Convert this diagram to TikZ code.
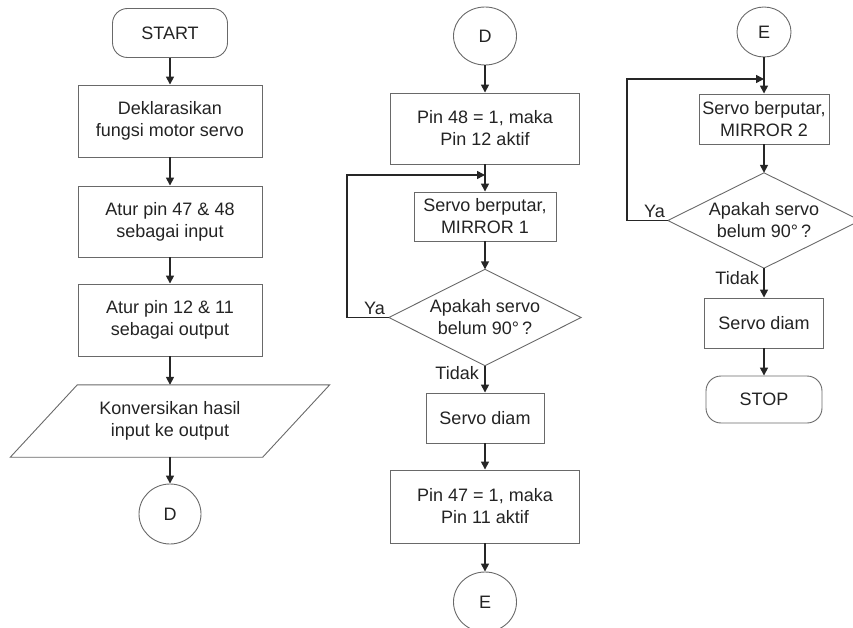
\documentclass[tikz,border=0pt]{standalone}
\usepackage{fontspec}
\setmainfont{Liberation Sans}
\usetikzlibrary{shapes.geometric,arrows.meta,calc}
\definecolor{boxgray}{RGB}{105,105,105}
\definecolor{txt}{RGB}{35,35,35}
\begin{document}
\begin{tikzpicture}[x=1pt,y=-1pt,
  every node/.style={font=\fontsize{18}{22}\selectfont, text=txt, align=center},
  procbox/.style={draw=boxgray, line width=0.9pt, rectangle, inner sep=0pt},
  termbox/.style={draw=boxgray, line width=0.9pt, rectangle, rounded corners=15pt, inner sep=0pt},
  conn/.style={draw=boxgray, line width=0.9pt, ellipse, inner sep=0pt},
  decis/.style={rectangle, inner sep=0pt},
  outline/.style={draw=boxgray, line width=0.9pt},
  arr/.style={draw=black!85, line width=1.6pt, -{Triangle[length=8pt,width=8pt]}},
  lbl/.style={inner sep=1pt}
]
\useasboundingbox (0,0) rectangle (853,628);

% ---------- Column 1 ----------
\node[termbox, minimum width=115, minimum height=49] (start) at (170,33) {START};
\node[procbox, minimum width=184, minimum height=72] (b1) at (170,121) {Deklarasikan\\fungsi motor servo};
\node[procbox, minimum width=184, minimum height=71] (b2) at (170,221.5) {Atur pin 47 \& 48\\sebagai input};
\node[procbox, minimum width=184, minimum height=72] (b3) at (170,320) {Atur pin 12 \& 11\\sebagai output};
\node[minimum width=252, minimum height=72, inner sep=0pt] (para) at (170,421) {Konversikan hasil\\input ke output};
\draw[outline]
  ($(para.north west)+(33.5,0)$) -- ($(para.north east)+(33.5,0)$) --
  ($(para.south east)+(-33.5,0)$) -- ($(para.south west)+(-33.5,0)$) -- cycle;
\node[conn, minimum width=62, minimum height=60] (d1) at (170,514) {D};

\draw[arr] (start) -- (b1);
\draw[arr] (b1) -- (b2);
\draw[arr] (b2) -- (b3);
\draw[arr] (b3) -- (para);
\draw[arr] (para) -- (d1);

% ---------- Column 2 ----------
\node[conn, minimum width=63, minimum height=58] (d2) at (485,36) {D};
\node[procbox, minimum width=189, minimum height=71] (p48) at (485,128.5) {Pin 48 = 1, maka\\Pin 12 aktif};
\node[procbox, minimum width=142, minimum height=49] (m1) at (485,216.5) {Servo berputar,\\MIRROR 1};
\node[decis, minimum width=192, minimum height=96] (q1) at (485,317.5) {Apakah servo\\belum 90°\,?};
\draw[outline] (q1.north) -- (q1.east) -- (q1.south) -- (q1.west) -- cycle;
\node[procbox, minimum width=118, minimum height=50] (sd1) at (485,418) {Servo diam};
\node[procbox, minimum width=189, minimum height=73] (p47) at (485,506.5) {Pin 47 = 1, maka\\Pin 11 aktif};
\node[conn, minimum width=63, minimum height=60] (e1) at (485,602) {E};
\coordinate (j1) at (485,175);
\coordinate (l1) at (347,175);

\draw[arr] (d2) -- (p48);
\draw[arr] (p48) -- (m1);
\draw[arr] (m1) -- (q1.north);
\draw[arr] (q1.south) -- (sd1.north);
\draw[arr] (sd1) -- (p47);
\draw[arr] (p47) -- (e1);
\draw[arr] (q1.west) -| (l1) -- (j1);
\node[lbl, anchor=south east] (ya1) at (386,316) {Ya};
\node[lbl, anchor=east] (t1) at (480,373) {Tidak};

% ---------- Column 3 ----------
\node[conn, minimum width=54, minimum height=50] (e2) at (764,32) {E};
\node[procbox, minimum width=130, minimum height=50] (m2) at (764,119) {Servo berputar,\\MIRROR 2};
\node[decis, minimum width=192, minimum height=95] (q2) at (764,220.5) {Apakah servo\\belum 90°\,?};
\draw[outline] (q2.north) -- (q2.east) -- (q2.south) -- (q2.west) -- cycle;
\node[procbox, minimum width=119, minimum height=50] (sd2) at (764,323) {Servo diam};
\node[termbox, minimum width=116, minimum height=47] (stop) at (764,399.5) {STOP};
\coordinate (j2) at (764,79);
\coordinate (l2) at (627,79);

\draw[arr] (e2) -- (m2);
\draw[arr] (m2) -- (q2.north);
\draw[arr] (q2.south) -- (sd2.north);
\draw[arr] (sd2) -- (stop);
\draw[arr] (q2.west) -| (l2) -- (j2);
\node[lbl, anchor=south east] (ya2) at (666,219) {Ya};
\node[lbl, anchor=east] (t2) at (760,278) {Tidak};
\end{tikzpicture}
\end{document}
